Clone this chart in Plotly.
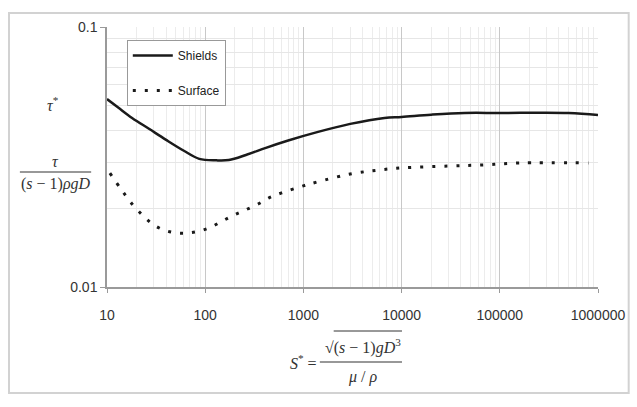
import plotly.graph_objects as go

# ---- data ----
shields_x = [10, 13, 18, 27, 40, 60, 87, 130, 174, 260, 415, 700, 1410, 3000, 6700, 10000, 20000, 43600, 100000, 500000, 1000000]
shields_y = [0.0528, 0.0490, 0.0447, 0.0405, 0.0368, 0.0335, 0.0311, 0.0307, 0.0308, 0.0322, 0.0343, 0.0366, 0.0395, 0.0424, 0.0447, 0.0451, 0.0460, 0.0467, 0.0467, 0.0467, 0.0459]

surface_x = [10.7, 14, 18.3, 23, 29, 38, 51, 66, 87, 115, 150, 196, 258, 350, 445, 600, 1000, 1410, 3000, 5500, 10000, 31600, 69000, 158000, 800000]
surface_y = [0.0274, 0.0237, 0.0207, 0.0189, 0.01747, 0.01656, 0.01614, 0.01614, 0.0164, 0.0170, 0.01795, 0.0189, 0.0198, 0.0209, 0.0220, 0.0230, 0.0245, 0.0254, 0.0272, 0.0281, 0.0287, 0.0292, 0.0295, 0.0300, 0.0300]

x_tickvals = [10, 100, 1000, 10000, 100000, 1000000]
x_ticktext = ["10", "100", "1000", "10000", "100000", "1000000"]
y_tickvals = [0.01, 0.1]
y_ticktext = ["0.01", "0.1"]

W, H = 637, 407
L, R, T, B = 107, 603, 27, 287


def px(x):
    return (x - L) / (R - L)


def py(y):
    return (B - y) / (B - T)


fig = go.Figure()
fig.add_trace(go.Scatter(x=shields_x, y=shields_y, mode="lines", name="Shields",
                         legendgroup="a", line=dict(color="#1a1a1a", width=2.5, shape="spline")))
fig.add_trace(go.Scatter(x=surface_x, y=surface_y, mode="lines", name="Surface",
                         legendgroup="b", line=dict(color="#1a1a1a", width=3, dash="3px,9px", shape="spline")))

tickfont = dict(family="Liberation Sans, Arial", size=14, color="#333")

fig.update_xaxes(type="log", range=[1, 6], tickvals=x_tickvals, ticktext=x_ticktext,
                 tickfont=tickfont, showgrid=True, gridcolor="#c8c8c8", gridwidth=1,
                 showline=True, linecolor="#9a9a9a", linewidth=1.5,
                 ticks="outside", ticklen=4, tickcolor="#9a9a9a", ticklabelstandoff=10,
                 minor=dict(showgrid=True, gridcolor="#ececec", dtick="D1", ticks=""),
                 zeroline=False, mirror=False)
fig.update_yaxes(type="log", range=[-2, -1], tickvals=y_tickvals, ticktext=y_ticktext,
                 tickfont=tickfont, showgrid=True, gridcolor="#d0d0d0", gridwidth=1,
                 showline=True, linecolor="#9a9a9a", linewidth=1.5,
                 ticks="outside", ticklen=5, tickcolor="#9a9a9a",
                 minor=dict(showgrid=True, gridcolor="#e6e6e6", dtick="D1", ticks=""),
                 zeroline=False)

serif = dict(family="Liberation Serif, Times New Roman, serif", size=16, color="#333")
anns = [
    dict(x=px(52), y=py(104), text="<i>τ</i><sup>*</sup>"),
    dict(x=px(55), y=py(161), text="<i>τ</i>"),
    dict(x=px(55), y=py(184), text="(<i>s</i> − 1)<i>ρgD</i>"),
    dict(x=px(305), y=py(362), text="<i>S</i><sup>*</sup> ="),
    dict(x=px(366), y=py(346), text="√(<i>s</i> − 1)<i>gD</i><sup>3</sup>"),
    dict(x=px(365), y=py(377), text="<i>μ</i> / <i>ρ</i>"),
]
for a in anns:
    a.update(xref="paper", yref="paper", showarrow=False, font=serif, xanchor="center", yanchor="middle")

shapes = [
    # outer frame
    dict(type="rect", xref="paper", yref="paper", x0=px(8), x1=px(634), y0=py(393), y1=py(13),
         line=dict(color="#d2d2d2", width=2), layer="below"),
    # fraction bars
    dict(type="line", xref="paper", yref="paper", x0=px(19), x1=px(91), y0=py(172), y1=py(172),
         line=dict(color="#333", width=1.2)),
    dict(type="line", xref="paper", yref="paper", x0=px(322), x1=px(405), y0=py(362), y1=py(362),
         line=dict(color="#333", width=1.2)),
    dict(type="line", xref="paper", yref="paper", x0=px(336), x1=px(405), y0=py(331), y1=py(331),
         line=dict(color="#333", width=1)),
]

fig.update_layout(
    width=W, height=H,
    margin=dict(l=L, r=W - R, t=T, b=H - B),
    paper_bgcolor="white", plot_bgcolor="white",
    annotations=anns, shapes=shapes,
    showlegend=True,
    legend=dict(x=px(127), y=py(40), xanchor="left", yanchor="top",
                bordercolor="#999", borderwidth=1, bgcolor="white",
                font=dict(family="Liberation Sans, Arial", size=12, color="#222"),
                tracegroupgap=16, itemwidth=40, entrywidth=105, entrywidthmode="pixels"),
)

fig.write_html("out.html")
